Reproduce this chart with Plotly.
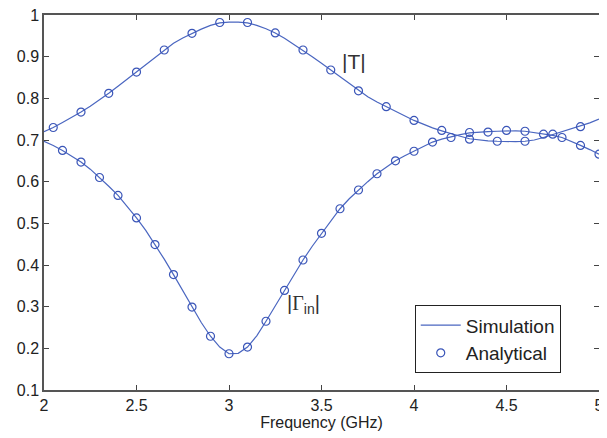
import plotly.graph_objects as go

# Simulation (solid line) sampled every 0.05 GHz
sim_freq = [round(2.0 + 0.05 * i, 2) for i in range(61)]
sim_T = [0.720, 0.730, 0.742, 0.754, 0.767, 0.781, 0.796, 0.812, 0.829, 0.846,
         0.863, 0.881, 0.899, 0.916, 0.932, 0.945, 0.956, 0.966, 0.975, 0.981,
         0.983, 0.983, 0.981, 0.975, 0.967, 0.957, 0.944, 0.930, 0.916, 0.900,
         0.884, 0.868, 0.851, 0.834, 0.818, 0.804, 0.791, 0.780, 0.768, 0.757,
         0.747, 0.738, 0.729, 0.722, 0.715, 0.709, 0.703, 0.700, 0.698, 0.697,
         0.696, 0.696, 0.697, 0.700, 0.706, 0.713, 0.720, 0.727, 0.733, 0.741,
         0.750]
sim_G = [0.697, 0.687, 0.675, 0.662, 0.647, 0.630, 0.610, 0.589, 0.567, 0.541,
         0.513, 0.483, 0.449, 0.414, 0.377, 0.338, 0.299, 0.262, 0.229, 0.203,
         0.187, 0.188, 0.203, 0.230, 0.265, 0.302, 0.339, 0.376, 0.412, 0.445,
         0.476, 0.507, 0.535, 0.559, 0.580, 0.600, 0.619, 0.635, 0.650, 0.662,
         0.673, 0.684, 0.695, 0.702, 0.708, 0.713, 0.717, 0.719, 0.720, 0.721,
         0.722, 0.722, 0.721, 0.718, 0.714, 0.711, 0.706, 0.697, 0.687, 0.677,
         0.666]

# Analytical (circles)
ana_T_freq = [2.05, 2.2, 2.35, 2.5, 2.65, 2.8, 2.95, 3.1, 3.25, 3.4, 3.55, 3.7,
              3.85, 4.0, 4.15, 4.3, 4.45, 4.6, 4.75, 4.9]
ana_T = [0.730, 0.767, 0.812, 0.863, 0.916, 0.956, 0.982, 0.982, 0.957, 0.916,
         0.868, 0.818, 0.780, 0.747, 0.723, 0.702, 0.697, 0.697, 0.714, 0.732]
ana_G_freq = [2.1, 2.2, 2.3, 2.4, 2.5, 2.6, 2.7, 2.8, 2.9, 3.0, 3.1, 3.2, 3.3,
              3.4, 3.5, 3.6, 3.7, 3.8, 3.9, 4.0, 4.1, 4.2, 4.3, 4.4, 4.5, 4.6,
              4.7, 4.8, 4.9, 5.0]
ana_G = [0.675, 0.647, 0.610, 0.567, 0.513, 0.449, 0.377, 0.299, 0.229, 0.187,
         0.203, 0.265, 0.339, 0.412, 0.476, 0.535, 0.580, 0.619, 0.650, 0.673,
         0.695, 0.706, 0.718, 0.719, 0.723, 0.721, 0.714, 0.706, 0.687, 0.666]

x_ticks = [2, 2.5, 3, 3.5, 4, 4.5, 5]
y_ticks = [0.1, 0.2, 0.3, 0.4, 0.5, 0.6, 0.7, 0.8, 0.9, 1]

LINE = "#4a66c0"
MARK = "#3a55b8"
FONT = "Liberation Sans, Arial, sans-serif"

fig = go.Figure()
fig.add_trace(go.Scatter(x=sim_freq, y=sim_T, mode="lines", name="Simulation",
                         legendgroup="sim", line=dict(color=LINE, width=1.2)))
fig.add_trace(go.Scatter(x=sim_freq, y=sim_G, mode="lines", name="Simulation",
                         legendgroup="sim", showlegend=False,
                         line=dict(color=LINE, width=1.2)))
fig.add_trace(go.Scatter(x=ana_T_freq, y=ana_T, mode="markers", name="Analytical",
                         legendgroup="ana",
                         marker=dict(symbol="circle-open", size=8, color=MARK,
                                     line=dict(width=1.2, color=MARK))))
fig.add_trace(go.Scatter(x=ana_G_freq, y=ana_G, mode="markers", name="Analytical",
                         legendgroup="ana", showlegend=False,
                         marker=dict(symbol="circle-open", size=8, color=MARK,
                                     line=dict(width=1.2, color=MARK))))

axis_common = dict(showline=True, linecolor="#555555", linewidth=1.5, mirror="allticks",
                   ticks="inside", ticklen=5, tickcolor="#444444", showgrid=False,
                   zeroline=False, automargin=False, ticklabeloverflow="allow",
                   tickfont=dict(family=FONT, size=16, color="#222222"))

fig.update_xaxes(range=[2, 5], tickvals=x_ticks, ticktext=[f"{v:g}" for v in x_ticks],
                 title=dict(text="Frequency (GHz)", font=dict(family=FONT, size=16, color="#222222"),
                            standoff=4), **axis_common)
fig.update_yaxes(range=[0.1, 1], tickvals=y_ticks, ticktext=[f"{v:g}" for v in y_ticks],
                 **axis_common)

fig.add_annotation(x=3.673, y=0.889, text="|T|", showarrow=False,
                   font=dict(family=FONT, size=21, color="#333333"))
fig.add_annotation(x=3.405, y=0.305,
                   text="|<span style='font-family:Liberation Serif, Times New Roman, serif'>Γ</span><sub>in</sub>|",
                   showarrow=False, font=dict(family=FONT, size=20, color="#333333"))

# The page body adds an 8px offset, so the figure is 8px smaller and margins shifted.
fig.update_layout(
    width=599, height=430,
    margin=dict(l=36, r=8, t=7, b=48),
    paper_bgcolor="white", plot_bgcolor="white",
    font=dict(family=FONT, color="#222222"),
    legend=dict(x=0.668, y=0.226, xanchor="left", yanchor="top",
                bordercolor="#222222", borderwidth=1, bgcolor="white",
                font=dict(family=FONT, size=19, color="#222222"),
                tracegroupgap=0, itemwidth=40),
)

fig.write_html("out.html")
